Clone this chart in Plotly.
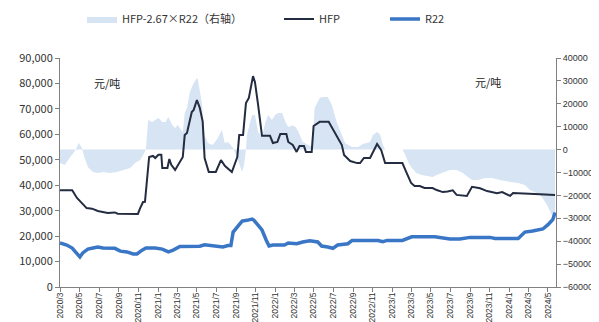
import plotly.graph_objects as go

# ---------------- data ----------------
hfp_dates = [
    "2020-03-01", "2020-04-08", "2020-04-23", "2020-05-23", "2020-06-09", "2020-06-27",
    "2020-07-28", "2020-08-19", "2020-08-28", "2020-10-30", "2020-11-06", "2020-11-15",
    "2020-11-21", "2020-12-04", "2020-12-16", "2020-12-23", "2021-01-02", "2021-01-11",
    "2021-01-14", "2021-01-30", "2021-02-05", "2021-02-11", "2021-02-23", "2021-03-10",
    "2021-03-19", "2021-03-25", "2021-04-01", "2021-04-16", "2021-04-22", "2021-05-02",
    "2021-05-11", "2021-05-20", "2021-05-26", "2021-06-08", "2021-06-30", "2021-07-16",
    "2021-07-28", "2021-08-19", "2021-09-05", "2021-09-11", "2021-09-23", "2021-10-02",
    "2021-10-11", "2021-10-24", "2021-10-30", "2021-11-09", "2021-11-21", "2021-12-16",
    "2021-12-25", "2022-01-08", "2022-01-17", "2022-02-05", "2022-02-11", "2022-02-25",
    "2022-03-09", "2022-03-18", "2022-04-01", "2022-04-07", "2022-04-25", "2022-05-01",
    "2022-05-20", "2022-06-17", "2022-07-06", "2022-07-15", "2022-07-28", "2022-08-04",
    "2022-08-23", "2022-09-14", "2022-09-23", "2022-10-05", "2022-10-24", "2022-11-15",
    "2022-11-28", "2022-12-10", "2023-02-02", "2023-02-11", "2023-03-01", "2023-03-12",
    "2023-03-28", "2023-04-12", "2023-05-07", "2023-05-20", "2023-06-08", "2023-06-23",
    "2023-07-09", "2023-07-21", "2023-08-22", "2023-09-07", "2023-10-02", "2023-10-24",
    "2023-11-24", "2023-12-10", "2024-01-04", "2024-01-13", "2024-02-14", "2024-04-06",
    "2024-05-23",
]
hfp_values = [
    38000, 38000, 35000, 31000, 30800, 29900,
    29100, 29300, 28800, 28700, 31000, 33400,
    33500, 51100, 51500, 50700, 52000, 52000,
    46800, 46800, 50300, 48000, 46000, 49100,
    51100, 59700, 60500, 68800, 69600, 73500,
    70400, 65000, 50700, 45200, 45200, 49900,
    47600, 45200, 51100, 59700, 59700, 72300,
    74300, 82900, 80600, 71500, 59400, 59400,
    56600, 57000, 60100, 60100, 57000, 55800,
    53100, 55400, 55400, 53100, 53100, 63300,
    64900, 64900, 60500, 59000, 55800, 51900,
    49500, 48700, 48700, 50700, 50700, 56200,
    53800, 48700, 48700, 46000, 40900, 39700,
    39700, 38900, 38900, 38100, 37300, 37500,
    38000, 36200, 35800, 39400, 38800, 37700,
    36900, 37300, 35800, 36900, 36800, 36500,
    36200,
]

r22_dates = [
    "2020-03-01", "2020-03-22", "2020-04-08", "2020-04-23", "2020-05-02", "2020-05-11",
    "2020-05-27", "2020-06-12", "2020-06-27", "2020-07-13", "2020-08-04", "2020-08-19",
    "2020-09-05", "2020-09-26", "2020-10-15", "2020-10-27", "2020-11-12", "2020-11-24",
    "2020-12-23", "2021-01-14", "2021-02-02", "2021-02-17", "2021-03-10", "2021-04-10",
    "2021-05-11", "2021-05-26", "2021-06-17", "2021-07-06", "2021-07-22", "2021-08-07",
    "2021-08-16", "2021-08-23", "2021-09-05", "2021-09-20", "2021-10-05", "2021-10-21",
    "2021-10-27", "2021-11-09", "2021-11-21", "2021-12-04", "2021-12-13", "2021-12-25",
    "2022-01-30", "2022-02-11", "2022-02-25", "2022-03-09", "2022-03-28", "2022-04-19",
    "2022-05-14", "2022-05-26", "2022-06-14", "2022-06-30", "2022-07-15", "2022-08-07",
    "2022-08-16", "2022-08-29", "2022-11-18", "2022-12-03", "2022-12-16", "2023-02-02",
    "2023-03-03", "2023-05-14", "2023-06-08", "2023-06-30", "2023-07-31", "2023-09-01",
    "2023-11-02", "2023-11-18", "2024-01-29", "2024-02-19", "2024-03-14", "2024-04-15",
    "2024-05-01", "2024-05-16", "2024-05-23",
]
r22_values = [
    17300, 16500, 15300, 13400, 11800, 13400,
    14900, 15300, 15700, 15300, 15300, 15200,
    14100, 13800, 13000, 13000, 14500, 15300,
    15300, 14900, 13800, 14500, 15900, 16000,
    16000, 16600, 16200, 16200, 15700, 16300,
    16300, 21600, 23600, 25900, 26200, 26700,
    26200, 24000, 22400, 18500, 16100, 16500,
    16500, 17300, 17000, 17000, 17700, 18200,
    17700, 16100, 15700, 15200, 16500, 17000,
    17000, 18300, 18300, 17800, 18300, 18300,
    19700, 19700, 19300, 18900, 18900, 19500,
    19500, 19100, 19100, 21600, 22000, 22800,
    24500, 26500, 29300,
]

spread_dates = [
    "2020-03-01", "2020-03-16", "2020-04-01", "2020-04-17", "2020-04-29", "2020-05-08",
    "2020-05-17", "2020-05-27", "2020-06-12", "2020-06-27", "2020-07-13", "2020-08-04",
    "2020-08-25", "2020-09-14", "2020-10-06", "2020-10-21", "2020-11-06", "2020-11-15",
    "2020-11-24", "2020-12-01", "2020-12-13", "2020-12-23", "2021-01-02", "2021-01-14",
    "2021-01-24", "2021-02-02", "2021-02-14", "2021-02-23", "2021-03-03", "2021-03-19",
    "2021-03-25", "2021-04-01", "2021-04-10", "2021-04-19", "2021-05-02", "2021-05-05",
    "2021-05-17", "2021-05-26", "2021-06-05", "2021-06-21", "2021-07-06", "2021-07-19",
    "2021-07-28", "2021-08-07", "2021-08-23", "2021-09-05", "2021-09-14", "2021-09-20",
    "2021-09-26", "2021-10-02", "2021-10-05", "2021-10-21", "2021-10-30", "2021-11-09",
    "2021-11-21", "2021-12-01", "2021-12-10", "2021-12-22", "2022-01-01", "2022-01-11",
    "2022-01-23", "2022-02-02", "2022-02-11", "2022-02-25", "2022-03-06", "2022-03-15",
    "2022-03-28", "2022-04-13", "2022-04-28", "2022-05-04", "2022-05-20", "2022-05-29",
    "2022-06-14", "2022-06-27", "2022-07-12", "2022-07-28", "2022-08-07", "2022-08-29",
    "2022-09-17", "2022-10-02", "2022-10-24", "2022-11-02", "2022-11-15", "2022-11-25",
    "2022-12-03", "2022-12-10", "2023-02-02", "2023-02-11", "2023-02-20", "2023-03-03",
    "2023-03-18", "2023-04-03", "2023-04-18", "2023-05-07", "2023-05-20", "2023-06-08",
    "2023-06-30", "2023-07-21", "2023-08-10", "2023-08-25", "2023-09-07", "2023-09-26",
    "2023-10-18", "2023-11-09", "2023-12-03", "2024-01-04", "2024-01-29", "2024-02-19",
    "2024-03-06", "2024-03-27", "2024-04-12", "2024-04-28", "2024-05-13", "2024-05-23",
]
spread_values = [
    -5800, -6700, -3500, -500, 2900, 700,
    -3700, -7600, -9800, -10200, -9800, -10200,
    -9800, -8900, -8000, -5800, -4500, -2400,
    0, 12900, 12000, 12900, 13800, 12000,
    12000, 14200, 10700, 9400, 10700, 7700,
    16000, 18200, 25200, 28200, 31300, 30500,
    20800, 6400, 2900, 2000, 5100, 8600,
    2900, 3300, 700, -3700, -8000, -9800,
    -6700, 0, 6400, 15100, 15100, 7700,
    5500, 11600, 15100, 12900, 15100, 16000,
    16000, 12000, 9900, 10500, 9900, 7700,
    3300, 2000, 1100, 18200, 22500, 23000,
    23000, 19500, 12000, 6400, 2900, 1100,
    1100, 2400, 3300, 6400, 7700, 6400,
    2000, 0, 0, -2400, -5400, -8000,
    -10200, -11100, -11500, -12000, -11100, -10200,
    -8900, -8900, -10200, -12000, -13300, -13300,
    -12400, -12400, -13300, -14100, -14600, -15500,
    -17600, -19000, -20700, -24200, -28600, -30700,
]

series_names = ["HFP-2.67×R22（右轴）", "HFP", "R22"]
unit_label = "元/吨"

# ---------------- figure ----------------
AREA_COLOR = "rgb(214,228,244)"
HFP_COLOR = "#232c40"
R22_COLOR = "#3a76c6"
AXIS_COLOR = "#808080"
TXT = "#333333"

fig = go.Figure()

fig.add_trace(go.Scatter(
    x=spread_dates, y=spread_values, name=series_names[0],
    mode="lines", line=dict(width=0, color=AREA_COLOR),
    fill="tozeroy", fillcolor=AREA_COLOR, yaxis="y", legend="legend",
))
fig.add_trace(go.Scatter(
    x=hfp_dates, y=hfp_values, name=series_names[1],
    mode="lines", line=dict(width=2, color=HFP_COLOR), yaxis="y2", legend="legend2",
))
fig.add_trace(go.Scatter(
    x=r22_dates, y=r22_values, name=series_names[2],
    mode="lines", line=dict(width=3.5, color=R22_COLOR), yaxis="y2", legend="legend3",
))

# page has an 8px body margin: the figure div starts at (8, 8)
OFF = 8
PAGE_W, PAGE_H = 599, 322
X0, X1, Y0, Y1 = 60, 556, 58, 287          # plot area in page pixels
W, H = PAGE_W - OFF, PAGE_H - OFF
L, R, T, B = X0 - OFF, PAGE_W - X1, Y0 - OFF, PAGE_H - Y1


def px_x(p):
    return (p - X0) / (X1 - X0)


def px_y(p):
    return (Y1 - p) / (Y1 - Y0)


legend_font = dict(family="Liberation Sans Narrow, Noto Sans CJK SC, sans-serif", size=11, color=TXT)
common_leg = dict(orientation="h", xanchor="left", yanchor="middle", y=px_y(19),
                  bgcolor="rgba(0,0,0,0)", font=legend_font, itemwidth=30)

fig.update_layout(
    width=W, height=H,
    margin=dict(l=L, r=R, t=T, b=B, autoexpand=False),
    paper_bgcolor="white", plot_bgcolor="white",
    showlegend=True,
    legend=dict(x=px_x(82), **common_leg),
    legend2=dict(x=px_x(279), **common_leg),
    legend3=dict(x=px_x(385), **common_leg),
    xaxis=dict(
        type="date", range=["2020-03-01", "2024-05-26"],
        tick0="2020-03-01", dtick="M2", tickformat="%Y/%-m", tickangle=-90,
        ticks="outside", ticklen=4, tickcolor=AXIS_COLOR,
        showline=True, linecolor=AXIS_COLOR, linewidth=1,
        showgrid=False, zeroline=False, automargin=False,
        ticklabelstandoff=-3,
        tickfont=dict(family="Liberation Sans Narrow, Liberation Sans, sans-serif", size=8.5, color=TXT),
    ),
    yaxis=dict(
        side="right", range=[-60000, 40000], dtick=10000, tickformat="d",
        ticks="outside", ticklen=4, tickcolor=AXIS_COLOR,
        showline=True, linecolor=AXIS_COLOR, linewidth=1,
        showgrid=False, zeroline=False, automargin=False,
        tickfont=dict(family="Liberation Sans Narrow, Liberation Sans, sans-serif", size=9, color=TXT),
    ),
    yaxis2=dict(
        side="left", overlaying="y", range=[0, 90000], dtick=10000, tickformat=",",
        ticks="outside", ticklen=4, tickcolor=AXIS_COLOR,
        showline=True, linecolor=AXIS_COLOR, linewidth=1,
        showgrid=False, zeroline=False, automargin=False,
        tickfont=dict(family="Noto Sans CJK SC, sans-serif", size=11, color=TXT),
    ),
    annotations=[
        dict(text=unit_label, x=px_x(92), y=px_y(73), xref="paper", yref="paper",
             showarrow=False, font=dict(family="Noto Sans CJK SC", size=11, color="#222")),
        dict(text=unit_label, x=px_x(503), y=px_y(72), xref="paper", yref="paper",
             showarrow=False, font=dict(family="Noto Sans CJK SC", size=11, color="#222")),
    ],
)

fig.write_html("out.html")
